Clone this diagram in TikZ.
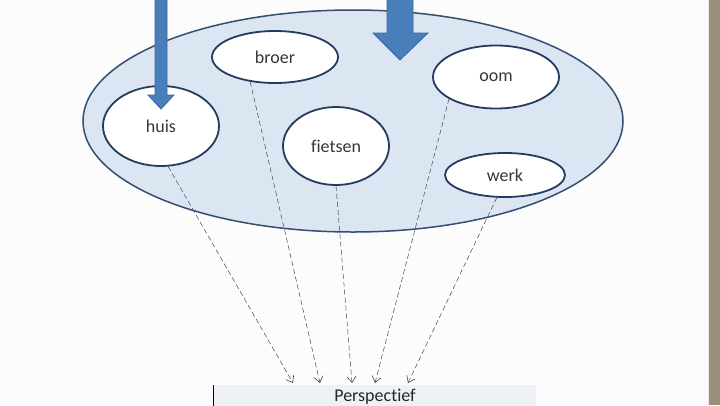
\documentclass[tikz,border=0pt]{standalone}
\usepackage{fontspec}
\setmainfont[Ligatures={NoCommon}]{Carlito}
\usetikzlibrary{shapes.geometric,arrows.meta}
\definecolor{bigfill}{RGB}{220,230,242}
\definecolor{bigline}{RGB}{52,78,112}
\definecolor{smallline}{RGB}{36,60,96}
\definecolor{arrfill}{RGB}{74,126,187}
\definecolor{arrline}{RGB}{58,104,158}
\definecolor{txt}{RGB}{55,55,60}
\definecolor{dashc}{RGB}{60,70,85}
\definecolor{boxfill}{RGB}{238,242,247}
\definecolor{band}{RGB}{153,143,122}
\tikzset{
  word/.style={ellipse, draw=smallline, line width=1.8pt, fill=white, inner sep=0pt,
    font=\fontsize{18}{21}\selectfont, text=txt},
  link/.style={draw=dashc, line width=0.5pt, dash pattern=on 5pt off 3pt,
    -{Straight Barb[length=6pt,width=9pt,line width=0.6pt]}},
  bluearrow/.style={fill=arrfill, draw=arrline, line width=0.8pt}
}
\begin{document}
\begin{tikzpicture}[x=1pt,y=-1pt]
\useasboundingbox (0,0) rectangle (720,405);
\fill[white!99!black] (0,0) rectangle (720,405);
% big ellipse
\node[ellipse, draw=bigline, line width=1.5pt, fill=bigfill, minimum width=540pt, minimum height=222pt, inner sep=0pt] (cloud) at (353,121) {};
% words
\node[word, minimum width=126pt, minimum height=52pt] (broer) at (275,57) {broer};
\node[word, minimum width=116pt, minimum height=80pt] (huis) at (161,126) {huis};
\node[word, minimum width=106pt, minimum height=78pt] (fietsen) at (336,146) {fietsen};
\node[word, minimum width=126pt, minimum height=63pt] (oom) at (496,77) {oom};
\node[word, minimum width=120pt, minimum height=44pt] (werk) at (505,175) {werk};
% blue arrows
\filldraw[bluearrow] (155,-2) -- (167,-2) -- (167,95) -- (174,95) -- (161,109) -- (148,95) -- (155,95) -- cycle;
\filldraw[bluearrow] (387,-2) -- (413,-2) -- (413,33) -- (428,33) -- (400,60) -- (373,33) -- (387,33) -- cycle;
% Perspectief box
\fill[boxfill] (213,385) rectangle (536,406);
\draw[black, line width=1pt] (213.5,385) -- (213.5,406);
\node[anchor=base, font=\fontsize{18}{21}\selectfont, text=black!85] (persp) at (375,401) {Perspectief};
% targets
\coordinate (t1) at (293,383);
\coordinate (t2) at (320,383);
\coordinate (t3) at (352,383);
\coordinate (t4) at (375,383);
\coordinate (t5) at (408,383);
\draw[link] (huis.280) -- (t1);
\draw[link] (broer.225) -- (t2);
\draw[link] (fietsen.south) -- (t3);
\draw[link] (oom.205) -- (t4);
\draw[link] (werk.250) -- (t5);
% right band
\fill[band] (709,0) rectangle (720,405);
\draw[white!85!band, line width=0.6pt] (708.5,0) -- (708.5,405);
\end{tikzpicture}
\end{document}
